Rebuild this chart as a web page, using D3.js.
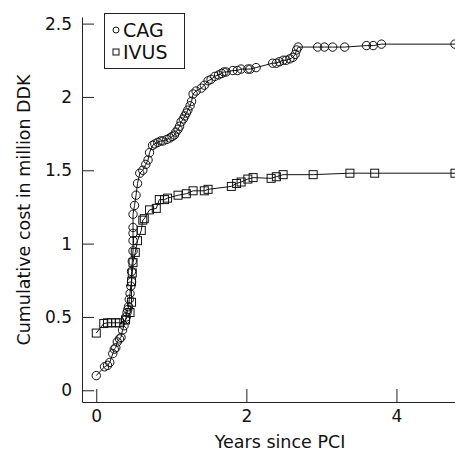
<!DOCTYPE html>
<html>
<head>
<meta charset="utf-8">
<script src="https://cdn.jsdelivr.net/npm/d3@7"></script>
<style>
  body { margin: 0; background: #fff; }
  svg { display: block; font-family: "DejaVu Sans", sans-serif; }
</style>
</head>
<body>
<div id="chart"></div>
<script>
// CAG: years since PCI, cumulative cost (million DDK)
const cagYears = [0.00, 0.11, 0.15, 0.18, 0.22, 0.24, 0.26, 0.28, 0.31, 0.33, 0.35, 0.37, 0.39, 0.40, 0.41, 0.42, 0.43,
  0.44, 0.45, 0.46, 0.47, 0.47, 0.48, 0.49, 0.49, 0.49, 0.49, 0.49, 0.51, 0.53, 0.55, 0.58, 0.62, 0.66, 0.69, 0.71,
  0.75, 0.78, 0.82, 0.86, 0.89, 0.94, 0.98, 1.01, 1.04, 1.06, 1.09, 1.11, 1.13, 1.16, 1.18, 1.20, 1.22, 1.25, 1.27,
  1.29, 1.33, 1.40, 1.44, 1.49, 1.53, 1.58, 1.63, 1.67, 1.70, 1.73, 1.82, 1.88, 1.93, 2.02, 2.05, 2.13, 2.35, 2.40,
  2.44, 2.49, 2.53, 2.58, 2.62, 2.65, 2.67, 2.69, 2.95, 3.04, 3.15, 3.31, 3.60, 3.69, 3.80, 4.78];
const cagCost = [0.10, 0.16, 0.17, 0.19, 0.25, 0.28, 0.29, 0.33, 0.35, 0.36, 0.41, 0.44, 0.48, 0.50, 0.53, 0.55, 0.57,
  0.62, 0.66, 0.71, 0.74, 0.81, 0.88, 0.95, 1.02, 1.07, 1.11, 1.20, 1.26, 1.33, 1.41, 1.48, 1.50, 1.54, 1.57, 1.62,
  1.67, 1.68, 1.69, 1.70, 1.70, 1.71, 1.72, 1.73, 1.74, 1.76, 1.78, 1.80, 1.83, 1.85, 1.87, 1.89, 1.91, 1.94, 1.97,
  2.02, 2.04, 2.06, 2.08, 2.11, 2.12, 2.14, 2.15, 2.16, 2.17, 2.17, 2.18, 2.18, 2.19, 2.19, 2.19, 2.20, 2.23, 2.23,
  2.24, 2.25, 2.25, 2.26, 2.27, 2.29, 2.32, 2.34, 2.34, 2.34, 2.34, 2.34, 2.35, 2.35, 2.36, 2.36];

// IVUS
const ivusYears = [0.00, 0.10, 0.15, 0.20, 0.26, 0.31, 0.39, 0.45, 0.47, 0.47, 0.48, 0.49, 0.52, 0.55, 0.60, 0.62,
  0.64, 0.71, 0.80, 0.84, 0.91, 0.95, 1.09, 1.20, 1.29, 1.44, 1.49, 1.80, 1.87, 1.93, 2.02, 2.09, 2.33, 2.40, 2.49,
  2.89, 3.38, 3.71, 4.78];
const ivusCost = [0.39, 0.455, 0.46, 0.46, 0.46, 0.46, 0.48, 0.53, 0.60, 0.74, 0.80, 0.87, 0.94, 1.02, 1.09, 1.16,
  1.17, 1.23, 1.24, 1.30, 1.30, 1.31, 1.33, 1.34, 1.36, 1.36, 1.37, 1.39, 1.41, 1.42, 1.44, 1.45, 1.445, 1.456, 1.47,
  1.47, 1.48, 1.48, 1.48];

const seriesNames = ['CAG', 'IVUS'];
const yTicks = [0, 0.5, 1, 1.5, 2, 2.5];
const xTicks = [0, 2, 4];

const width = 455;
const height = 453;

const cag = cagYears.map((d, i) => ({ x: d, y: cagCost[i] }));
const ivus = ivusYears.map((d, i) => ({ x: d, y: ivusCost[i] }));

const svg = d3.select('#chart')
  .append('svg')
  .attr('width', width)
  .attr('height', height);

const xScale = d3.scaleLinear().domain([-0.19, 4.78]).range([82, 455]);
const yScale = d3.scaleLinear().domain([-0.08, 2.545]).range([402, 17]);

// axes (ticks point inward)
const xAxis = svg.append('g')
  .attr('transform', 'translate(0,402)')
  .call(d3.axisBottom(xScale).tickValues(xTicks).tickFormat(d3.format('d'))
    .tickSize(-13).tickSizeOuter(0).tickPadding(8));

const yAxis = svg.append('g')
  .attr('transform', 'translate(82,0)')
  .call(d3.axisLeft(yScale).tickValues(yTicks).tickFormat(d => String(d))
    .tickSize(-12).tickSizeOuter(0).tickPadding(10));

[xAxis, yAxis].forEach(ax => {
  ax.selectAll('path, line').attr('stroke', '#222').attr('stroke-width', 1);
  ax.selectAll('text').attr('font-size', 17).attr('fill', '#111')
    .style('font-family', '"DejaVu Sans", sans-serif');
});

svg.append('text')
  .attr('x', 280).attr('y', 448)
  .attr('text-anchor', 'middle')
  .attr('font-size', 17.5)
  .attr('fill', '#111')
  .text('Years since PCI');

svg.append('text')
  .attr('transform', 'translate(30,210) rotate(-90)')
  .attr('text-anchor', 'middle')
  .attr('font-size', 17.5)
  .attr('fill', '#111')
  .text('Cumulative cost in million DDK');

const line = d3.line().x(d => xScale(d.x)).y(d => yScale(d.y));

const plot = svg.append('g');

plot.append('path').datum(cag)
  .attr('d', line).attr('fill', 'none').attr('stroke', '#111').attr('stroke-width', 1);
plot.append('path').datum(ivus)
  .attr('d', line).attr('fill', 'none').attr('stroke', '#111').attr('stroke-width', 1);

plot.append('g').selectAll('circle')
  .data(cag)
  .join('circle')
  .attr('cx', d => xScale(d.x))
  .attr('cy', d => yScale(d.y))
  .attr('r', 4.2)
  .attr('fill', 'none')
  .attr('stroke', '#111')
  .attr('stroke-width', 1);

plot.append('g').selectAll('rect')
  .data(ivus)
  .join('rect')
  .attr('x', d => xScale(d.x) - 4)
  .attr('y', d => yScale(d.y) - 4)
  .attr('width', 8)
  .attr('height', 8)
  .attr('fill', 'none')
  .attr('stroke', '#111')
  .attr('stroke-width', 1);

// legend
const legend = svg.append('g');
legend.append('rect')
  .attr('x', 104.5).attr('y', 13.5)
  .attr('width', 80).attr('height', 55)
  .attr('fill', '#fff').attr('stroke', '#222');

seriesNames.forEach((name, i) => {
  const cy = 30 + i * 22;
  if (i === 0) {
    legend.append('circle').attr('cx', 116).attr('cy', cy).attr('r', 3)
      .attr('fill', 'none').attr('stroke', '#111');
  } else {
    legend.append('rect').attr('x', 113).attr('y', cy - 3).attr('width', 6).attr('height', 6)
      .attr('fill', 'none').attr('stroke', '#111');
  }
  legend.append('text')
    .attr('x', 123).attr('y', cy + 7)
    .attr('font-size', 19)
    .attr('fill', '#111')
    .text(name);
});
</script>
</body>
</html>
